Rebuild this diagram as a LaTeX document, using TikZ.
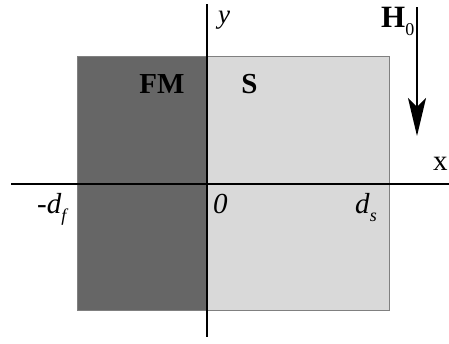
\documentclass[tikz,border=0pt]{standalone}
\usepackage{fontspec}
\setmainfont{Liberation Serif}
\usetikzlibrary{arrows.meta}
\begin{document}
\begin{tikzpicture}[x=1pt,y=-1pt,
  lbl/.style={inner sep=0pt,font=\fontsize{29}{30}\selectfont},
  axis/.style={line width=1.4pt,black},
  region/.style={draw=black!50,line width=0.8pt}]
\useasboundingbox (0,0) rectangle (449,343);
\fill[white] (0,0) rectangle (449,343);
% regions
\draw[region,fill=black!60] (77,56) rectangle (207,310);
\draw[region,fill=black!15] (207,56) rectangle (389,310);
% axes
\coordinate (xs) at (11,184);
\coordinate (xe) at (449,184);
\coordinate (ys) at (207,4);
\coordinate (ye) at (207,337);
\draw[axis] (xs) -- (xe);
\draw[axis] (ys) -- (ye);
% field arrow
\coordinate (hs) at (417,7);
\coordinate (he) at (417,136);
\draw[line width=2pt,-{Stealth[length=38pt,width=18pt,inset=9pt]}] (hs) -- (he);
% labels
\node[lbl,anchor=base west,font=\fontsize{31}{32}\selectfont] (H) at (381,27) {\textbf{H}\raisebox{-8pt}{\fontsize{18}{18}\selectfont 0}};
\node[lbl,anchor=base] (FM) at (162,93) {\textbf{FM}};
\node[lbl,anchor=base] (S) at (249.5,93) {\textbf{S}};
\node[lbl,anchor=base west,font=\fontsize{27}{28}\selectfont] (y) at (218,23) {\textit{y}};
\node[lbl,anchor=base west] (x) at (433,170) {x};
\node[lbl,anchor=base west] (df) at (37,213) {-\textit{d}\raisebox{-8pt}{\fontsize{18}{18}\selectfont\itshape f}};
\node[lbl,anchor=base west] (zero) at (213,213) {\textit{0}};
\node[lbl,anchor=base west] (ds) at (355,213) {\textit{d}\raisebox{-8pt}{\fontsize{18}{18}\selectfont\itshape s}};
\end{tikzpicture}
\end{document}
